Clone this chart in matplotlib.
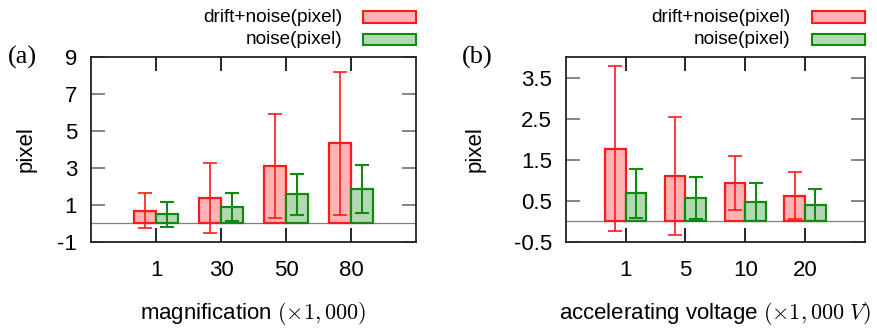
import matplotlib.pyplot as plt
import numpy as np
from matplotlib.patches import Rectangle

plt.rcParams['font.family'] = ['Liberation Sans', 'DejaVu Sans']
plt.rcParams['mathtext.fontset'] = 'cm'

# panel (a): magnification
mag_labels = ['1', '30', '50', '80']
mag_drift_mean = [0.70, 1.38, 3.11, 4.33]
mag_drift_std = [0.96, 1.88, 2.83, 3.87]
mag_noise_mean = [0.49, 0.88, 1.58, 1.85]
mag_noise_std = [0.67, 0.76, 1.10, 1.30]

# panel (b): accelerating voltage
volt_labels = ['1', '5', '10', '20']
volt_drift_mean = [1.77, 1.10, 0.93, 0.63]
volt_drift_std = [2.01, 1.44, 0.66, 0.58]
volt_noise_mean = [0.68, 0.56, 0.48, 0.40]
volt_noise_std = [0.60, 0.51, 0.46, 0.39]

RED_FACE, RED_EDGE = '#ffb3b3', '#ff1a1a'
GRN_FACE, GRN_EDGE = '#b3d9b3', '#108a10'


def draw_panel(ax, labels, d_mean, d_std, n_mean, n_std, ylim, yticks, ytlabels,
               xlabel, tag, ylab_x, tag_dx):
    x = np.arange(1, len(labels) + 1)
    w = 0.345
    ax.axhline(0, color='#808080', lw=0.9, zorder=1)
    ax.bar(x - w / 2, d_mean, w, color=RED_FACE, edgecolor=RED_EDGE, linewidth=1.6, zorder=2)
    ax.bar(x + w / 2, n_mean, w, color=GRN_FACE, edgecolor=GRN_EDGE, linewidth=1.6, zorder=2)
    ax.errorbar(x - w / 2, d_mean, yerr=d_std, fmt='none', ecolor=RED_EDGE, elinewidth=1.2,
                capsize=5, capthick=1.2, zorder=3)
    ax.errorbar(x + w / 2, n_mean, yerr=n_std, fmt='none', ecolor=GRN_EDGE, elinewidth=1.5,
                capsize=5, capthick=1.5, zorder=3)
    ax.set_xlim(0, 5)
    ax.set_ylim(*ylim)
    ax.set_xticks(x)
    ax.set_xticklabels(labels)
    ax.set_yticks(yticks)
    ax.set_yticklabels(ytlabels)
    ax.tick_params(axis='x', direction='in', length=10, width=1.2, top=True, pad=13,
                   labelsize=16, color='black')
    ax.tick_params(axis='y', direction='in', length=10, width=1.2, right=True, pad=10,
                   labelsize=16, color='#707070')
    for s in ax.spines.values():
        s.set_linewidth(1.3)
        s.set_color('#222222')
    ax.set_ylabel('pixel', fontsize=16)
    ax.yaxis.set_label_coords(ylab_x, 0.5)
    ax.set_xlabel(xlabel, fontsize=16, labelpad=14)

    # legend drawn above the axes, text left of boxes
    tr = ax.transAxes
    items = [('drift+noise(pixel)', RED_FACE, RED_EDGE), ('noise(pixel)', GRN_FACE, GRN_EDGE)]
    bw = 53 / ax.bbox.width
    bh = 11.5 / ax.bbox.height
    for i, (lab, fc, ec) in enumerate(items):
        yc = 1 + (40 - i * 22.5) / ax.bbox.height
        ax.add_patch(Rectangle((1 - bw, yc - bh / 2), bw, bh, transform=tr, facecolor=fc,
                               edgecolor=ec, linewidth=1.5, clip_on=False))
        ax.text(1 - bw - 21 / ax.bbox.width, yc, lab, transform=tr, ha='right', va='center',
                fontsize=13.7)
    ax.text(tag_dx / ax.bbox.width, 1.0, tag, transform=tr, ha='left', va='center',
            fontsize=19, family='Liberation Serif')


fig = plt.figure(figsize=(8.77, 3.28), dpi=100)
ax1 = fig.add_axes([0.1038, 0.2622, 0.3705, 0.564])
ax2 = fig.add_axes([0.6454, 0.2622, 0.3406, 0.564])

draw_panel(ax1, mag_labels, mag_drift_mean, mag_drift_std, mag_noise_mean, mag_noise_std,
           (-1, 9), [-1, 1, 3, 5, 7, 9], ['-1', '1', '3', '5', '7', '9'],
           r'magnification $(\times1,000)$', '(a)', -0.169, -83)
draw_panel(ax2, volt_labels, volt_drift_mean, volt_drift_std, volt_noise_mean, volt_noise_std,
           (-0.5, 4.0), [-0.5, 0.5, 1.5, 2.5, 3.5], ['-0.5', '0.5', '1.5', '2.5', '3.5'],
           r'accelerating voltage $(\times1,000\ V)$', '(b)', -0.271, -104)

fig.savefig('out.png', dpi=100)
